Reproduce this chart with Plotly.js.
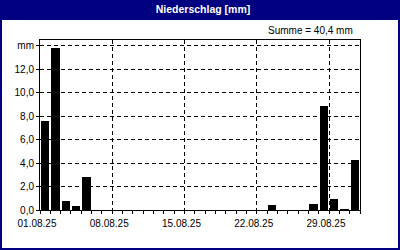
<!DOCTYPE html>
<html>
<head>
<meta charset="utf-8">
<script src="https://cdn.plot.ly/plotly-3.0.1.min.js"></script>
<style>
  html, body { margin: 0; padding: 0; background: #ffffff; }
  #chart { width: 400px; height: 250px; }
</style>
</head>
<body>
<div id="chart"></div>
<script>
// Daily precipitation, August 2025 (mm)
const days = [
  '2025-08-01','2025-08-02','2025-08-03','2025-08-04','2025-08-05','2025-08-06','2025-08-07',
  '2025-08-08','2025-08-09','2025-08-10','2025-08-11','2025-08-12','2025-08-13','2025-08-14',
  '2025-08-15','2025-08-16','2025-08-17','2025-08-18','2025-08-19','2025-08-20','2025-08-21',
  '2025-08-22','2025-08-23','2025-08-24','2025-08-25','2025-08-26','2025-08-27','2025-08-28',
  '2025-08-29','2025-08-30','2025-08-31'
];
const rain = [
  7.6, 13.8, 0.8, 0.3, 2.8, 0, 0,
  0, 0, 0, 0, 0, 0, 0,
  0, 0, 0, 0, 0, 0, 0,
  0, 0.4, 0, 0, 0, 0.5, 8.9,
  0.9, 0.1, 4.3
];

// Axis ticks
const xTickVals = ['2025-08-01', '2025-08-08', '2025-08-15', '2025-08-22', '2025-08-29'];
const xTickText = ['01.08.25', '08.08.25', '15.08.25', '22.08.25', '29.08.25'];
const yTickVals = [0, 2, 4, 6, 8, 10, 12, 14];
const yTickText = ['0,0', '2,0', '4,0', '6,0', '8,0', '10,0', '12,0', 'mm'];

const total = rain.reduce((a, b) => a + b, 0);
const totalText = 'Summe = ' + total.toFixed(1).replace('.', ',') + ' mm';

const DAY = 86400000;
const NAVY = '#000080';
const FONT = 'Liberation Sans, Arial, sans-serif';

// pixel helpers for the frame drawn around the whole figure (plot area 40..360 x 40..210)
const px = v => (v - 40) / 320;
const py = v => (210 - v) / 170;

const trace = {
  type: 'bar',
  x: days,
  y: rain,
  xperiod: DAY,
  xperiodalignment: 'middle',
  width: 0.8 * DAY,
  marker: { color: '#000000', line: { width: 0 } },
  hoverinfo: 'x+y'
};

const layout = {
  width: 400,
  height: 250,
  margin: { l: 40, r: 40, t: 40, b: 40, pad: 0 },
  paper_bgcolor: '#ffffff',
  plot_bgcolor: '#ffffff',
  showlegend: false,
  bargap: 0,
  font: { family: FONT, size: 10, color: '#000000' },
  title: {
    text: 'Niederschlag [mm]',
    font: { family: FONT, size: 10.5, color: '#ffffff', weight: 'bold' },
    x: 203 / 400,
    xref: 'container',
    xanchor: 'center',
    y: 1 - 9 / 250,
    yref: 'container',
    yanchor: 'middle'
  },
  xaxis: {
    type: 'date',
    range: ['2025-08-01', '2025-09-01'],
    tickmode: 'array',
    tickvals: xTickVals,
    ticktext: xTickText,
    ticks: 'outside',
    ticklen: 3,
    tickcolor: '#000000',
    ticklabelshift: -3,
    ticklabelstandoff: 1,
    showline: true,
    linecolor: '#000000',
    linewidth: 1,
    mirror: true,
    showgrid: true,
    gridcolor: '#000000',
    gridwidth: 1,
    griddash: '4px,3px',
    zeroline: false,
    minor: {
      dtick: DAY,
      tick0: '2025-08-01',
      ticks: 'outside',
      ticklen: 3,
      tickcolor: '#000000',
      showgrid: false
    },
    tickfont: { family: FONT, size: 10, color: '#000000' },
    fixedrange: true
  },
  yaxis: {
    range: [0, 14.5],
    tickmode: 'array',
    tickvals: yTickVals,
    ticktext: yTickText,
    ticks: 'outside',
    ticklen: 3,
    tickcolor: '#000000',
    showline: true,
    linecolor: '#000000',
    linewidth: 1,
    mirror: true,
    showgrid: true,
    gridcolor: '#000000',
    gridwidth: 1,
    griddash: '4px,3px',
    zeroline: false,
    tickfont: { family: FONT, size: 10, color: '#000000' },
    fixedrange: true
  },
  shapes: [
    // title band
    {
      type: 'rect', xref: 'paper', yref: 'paper', layer: 'below',
      x0: px(0), x1: px(400), y0: py(20), y1: py(0),
      fillcolor: NAVY, line: { width: 0 }
    },
    // outer border
    {
      type: 'rect', xref: 'paper', yref: 'paper', layer: 'above',
      x0: px(1), x1: px(399), y0: py(249), y1: py(1),
      fillcolor: 'rgba(0,0,0,0)', line: { color: NAVY, width: 2 }
    }
  ],
  annotations: [
    {
      text: totalText,
      xref: 'paper', yref: 'paper',
      x: px(355), y: py(31),
      xanchor: 'right', yanchor: 'middle',
      showarrow: false,
      font: { family: FONT, size: 10, color: '#000000' }
    }
  ]
};

Plotly.newPlot('chart', [trace], layout, { staticPlot: true, displayModeBar: false });
</script>
</body>
</html>
